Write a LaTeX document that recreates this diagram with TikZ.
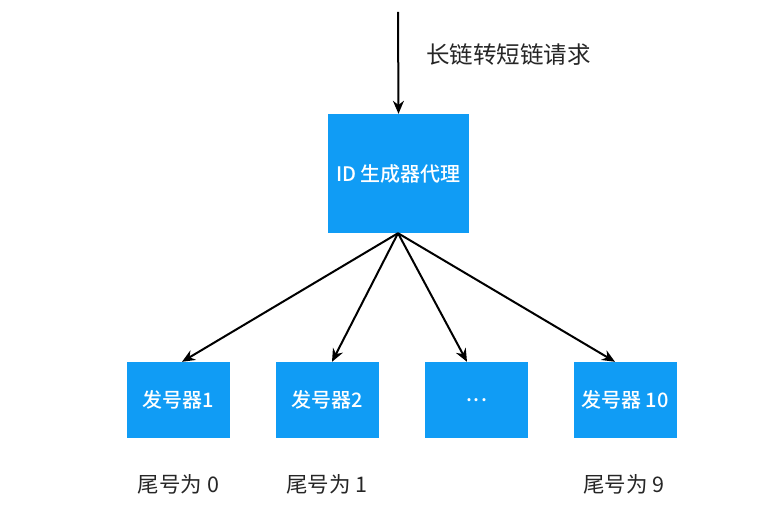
\documentclass[tikz,border=0pt]{standalone}
\usepackage{fontspec}
\setmainfont{Noto Sans CJK SC}[BoldFont={Noto Sans CJK SC Medium}]
\usetikzlibrary{arrows.meta,calc}
\definecolor{boxblue}{RGB}{16,156,245}
\tikzset{
  bluebox/.style={fill=boxblue, draw=none, inner sep=0pt, text=white, font=\fontsize{20}{24}\selectfont\bfseries},
  conn/.style={line width=2pt, -{Stealth[length=13pt,width=11pt]}},
  plainlabel/.style={text=black!85, font=\fontsize{21.5}{25}\selectfont, inner sep=0pt}
}
\begin{document}
\begin{tikzpicture}[x=1pt,y=-1pt]
\useasboundingbox (0,0) rectangle (772,518);
\node[bluebox, minimum width=141pt, minimum height=119pt] (proxy) at (398.5,173.5) {ID 生成器代理};
\coordinate (src) at (398,12);
\node[plainlabel, anchor=west, font=\fontsize{23.5}{27}\selectfont] (req) at (426,55) {长链转短链请求};
\node[bluebox, minimum width=103pt, minimum height=76pt] (b1) at (178.5,400) {发号器1};
\node[bluebox, minimum width=103pt, minimum height=76pt] (b2) at (327.5,400) {发号器2};
\node[bluebox, minimum width=103pt, minimum height=76pt] (b3) at (476.5,400) {\kern0.5pt.\kern1.5pt.\kern1.5pt.};
\node[bluebox, minimum width=103pt, minimum height=76pt] (b4) at (625,400) {发号器 10};
\node[plainlabel] (l1) at (178.5,484) {尾号为 0};
\node[plainlabel] (l2) at (327,484) {尾号为 1};
\node[plainlabel] (l4) at (624,484) {尾号为 9};
\coordinate (o) at ($(proxy.south)+(-0.5,0)$);
\draw[conn] (src) -- (proxy.north);
\draw[conn] (o) -- ($(b1.north)+(3.5,0)$);
\draw[conn] (o) -- ($(b2.north)+(4.5,0)$);
\draw[conn] (o) -- ($(b3.north)+(-9.5,0)$);
\draw[conn] (o) -- ($(b4.north)+(-10,0)$);
\end{tikzpicture}
\end{document}
